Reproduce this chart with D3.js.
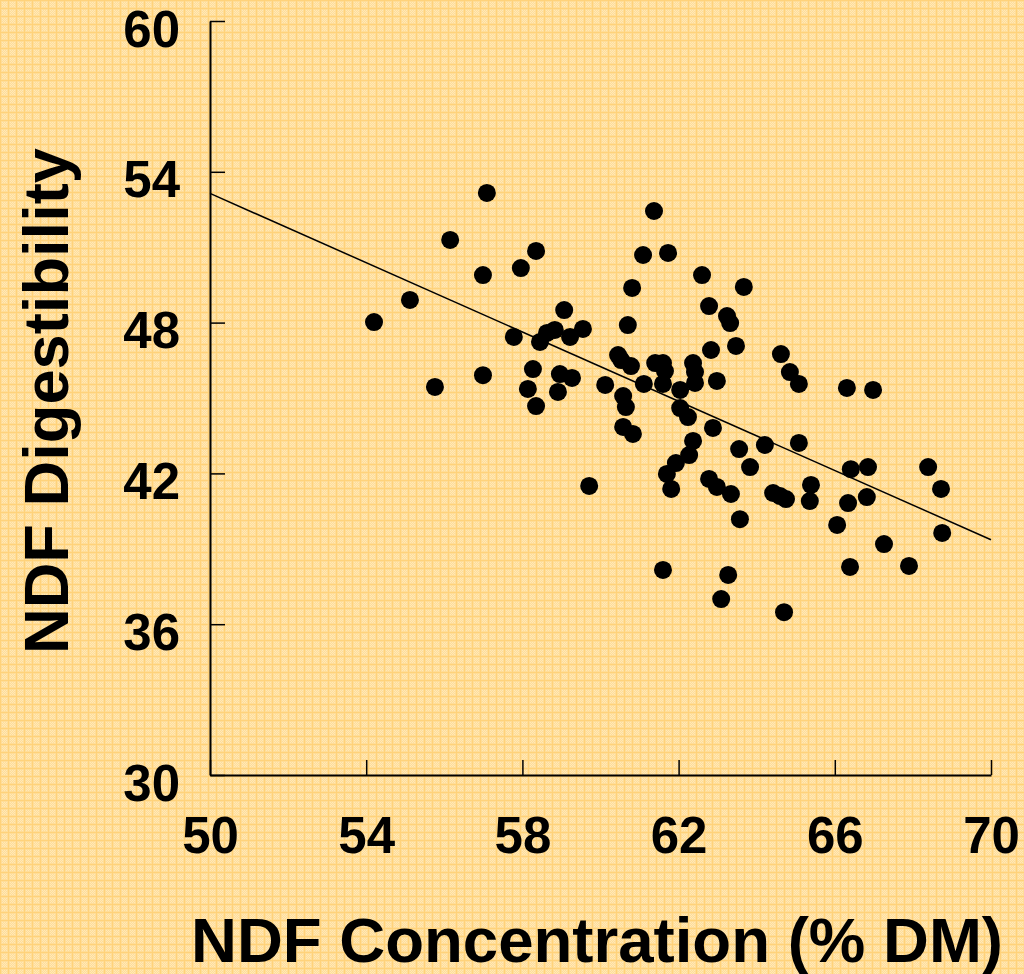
<!DOCTYPE html>
<html lang="en">
<head>
<meta charset="UTF-8">
<title>NDF Digestibility vs NDF Concentration</title>
<script src="https://d3js.org/d3.v7.min.js"></script>
<style>
  html, body { margin: 0; padding: 0; }
  svg { display: block; }
  text { font-family: "Liberation Sans", Arial, sans-serif; font-weight: bold; fill: #000; }
</style>
</head>
<body>
<svg id="chart" width="1024" height="974"></svg>
<script>
// NDF concentration (% DM) of each sample
const ndfConc = [
  54.20, 55.12, 55.76, 56.15, 56.99, 56.99, 57.09, 57.78, 57.96, 58.14,
  58.27, 58.35, 58.35, 58.45, 58.63, 58.83, 59.07, 59.22, 59.55, 59.27,
  58.96, 58.91, 59.71, 60.12, 60.45, 60.53, 60.78, 60.58, 60.65, 60.58,
  60.83, 60.70, 60.81, 61.09, 61.37, 61.73, 61.11, 61.40, 61.60, 61.65,
  61.60, 62.04, 62.04, 62.24, 62.37, 62.42, 62.42, 62.60, 62.78, 62.83,
  62.98, 62.88, 63.24, 63.32, 63.47, 63.67, 62.37, 62.27, 61.93, 61.70,
  61.81, 63.55, 64.21, 65.08, 63.83, 62.78, 62.98, 63.34, 64.42, 64.60,
  64.75, 63.57, 61.60, 63.27, 63.09, 64.70, 64.62, 64.85, 65.08, 66.31,
  66.98, 66.41, 66.85, 68.39, 68.72, 66.82, 66.34, 66.06, 68.75, 67.26,
  66.39, 67.90, 65.39, 65.36
];
// NDF digestibility of each sample
const ndfDigest = [
  48.02, 48.90, 45.44, 51.29, 49.89, 45.91, 53.16, 47.43, 50.17, 45.36,
  46.15, 50.85, 44.68, 47.23, 47.59, 47.71, 48.50, 47.43, 47.75, 45.80,
  45.95, 45.24, 41.50, 45.52, 46.71, 46.51, 46.27, 45.08, 44.64, 43.85,
  43.57, 47.90, 49.38, 50.69, 52.44, 50.77, 45.56, 46.39, 46.39, 46.07,
  45.56, 45.32, 44.60, 44.24, 46.39, 46.03, 45.60, 49.89, 48.66, 46.91,
  45.68, 43.81, 48.26, 47.98, 47.07, 49.42, 43.29, 42.73, 42.41, 41.98,
  41.38, 42.97, 43.13, 43.21, 42.25, 41.78, 41.46, 41.18, 41.22, 41.10,
  40.98, 40.18, 38.16, 37.96, 37.00, 36.48, 46.75, 46.03, 45.56, 45.40,
  45.32, 42.17, 42.25, 42.25, 41.38, 41.06, 40.82, 39.95, 39.63, 39.19,
  38.28, 38.32, 41.54, 40.90
];
// fitted regression line end points
const trendX = [50, 70];
const trendY = [53.14, 39.36];

const xTicks = [50, 54, 58, 62, 66, 70];
const yTicks = [30, 36, 42, 48, 54, 60];

const svg = d3.select("#chart");
const W = 1024, H = 974;

// textured yellow background
const defs = svg.append("defs");
const pat = defs.append("pattern")
  .attr("id", "bgTex")
  .attr("patternUnits", "userSpaceOnUse")
  .attr("width", 8).attr("height", 8);
pat.append("rect").attr("width", 8).attr("height", 8).attr("fill", "#ffdd98");
[[2, 2], [4, 2], [6, 2], [3, 3], [5, 3], [2, 4], [4, 4], [6, 4], [3, 5], [5, 5], [2, 6], [4, 6], [6, 6]]
  .forEach(([px, py]) => {
    pat.append("rect").attr("x", px).attr("y", py).attr("width", 1).attr("height", 1).attr("fill", "#ffe8b8");
  });
pat.append("rect").attr("x", 0).attr("y", 0).attr("width", 8).attr("height", 1).attr("fill", "#ffd27a");
pat.append("rect").attr("x", 0).attr("y", 0).attr("width", 1).attr("height", 8).attr("fill", "#ffd27a");

svg.append("rect").attr("width", W).attr("height", H).attr("fill", "url(#bgTex)");

const x = d3.scaleLinear().domain([50, 70]).range([210, 991]);
const y = d3.scaleLinear().domain([30, 60]).range([775, 21]);

// axes (ticks pointing inward)
const xAxis = d3.axisBottom(x).tickValues(xTicks).tickSizeInner(-15).tickSizeOuter(0).tickFormat(d3.format("d"));
const yAxis = d3.axisLeft(y).tickValues(yTicks).tickSizeInner(-15).tickSizeOuter(0).tickFormat(d3.format("d"));

const gx = svg.append("g").attr("transform", "translate(0,775)").call(xAxis);
const gy = svg.append("g").attr("transform", "translate(210,0)").call(yAxis);

[gx, gy].forEach(g => {
  g.select(".domain").attr("stroke", "#000").attr("stroke-width", 2);
  g.selectAll(".tick line").attr("stroke", "#000").attr("stroke-width", 1.5);
  g.selectAll(".tick text").attr("font-size", 51).attr("fill", "#000")
    .attr("font-family", "'Liberation Sans', Arial, sans-serif").attr("font-weight", "bold");
});
gx.selectAll(".tick text").attr("dy", null).attr("y", 78);
gy.selectAll(".tick text").attr("dy", null).attr("x", -30).attr("y", 25);

// regression line
svg.append("line")
  .attr("x1", x(trendX[0])).attr("y1", y(trendY[0]))
  .attr("x2", x(trendX[1])).attr("y2", y(trendY[1]))
  .attr("stroke", "#000").attr("stroke-width", 1.5);

// points
svg.append("g").selectAll("circle")
  .data(ndfConc.map((v, i) => [v, ndfDigest[i]]))
  .join("circle")
  .attr("cx", d => x(d[0]))
  .attr("cy", d => y(d[1]))
  .attr("r", 9)
  .attr("fill", "#000");

// axis titles
svg.append("text")
  .attr("x", 597).attr("y", 962)
  .attr("text-anchor", "middle")
  .attr("font-size", 63)
  .attr("textLength", 812)
  .attr("lengthAdjust", "spacingAndGlyphs")
  .text("NDF Concentration (% DM)");

svg.append("text")
  .attr("transform", "translate(68,401) rotate(-90)")
  .attr("text-anchor", "middle")
  .attr("font-size", 63)
  .attr("textLength", 506)
  .attr("lengthAdjust", "spacingAndGlyphs")
  .text("NDF Digestibility");
</script>
</body>
</html>
